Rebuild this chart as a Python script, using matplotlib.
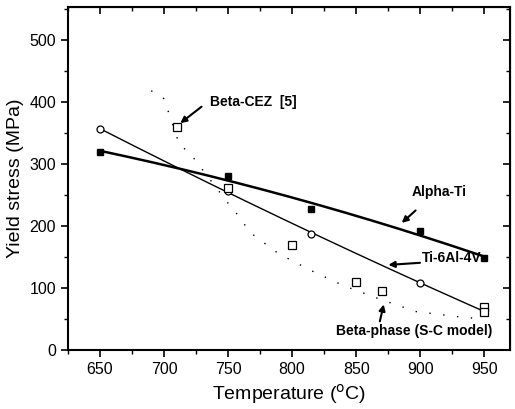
import numpy as np
import matplotlib
matplotlib.use("Agg")
import matplotlib.pyplot as plt
from matplotlib.ticker import MultipleLocator

plt.rcParams["font.family"] = ["Liberation Sans", "DejaVu Sans"]

# data
alpha_t = [650, 750, 815, 900, 950]
alpha_y = [320, 280, 227, 192, 148]

ti64_t = [650, 750, 815, 900, 950]
ti64_y = [356, 257, 187, 108, 63]

cez_t = [710, 750, 800, 850, 870, 950, 950]
cez_y = [360, 262, 170, 110, 95, 70, 62]

sc_t = [690, 700, 712, 720, 751, 759, 767, 789, 814, 840, 870, 897, 933, 950]
sc_y = [418, 405, 331, 318, 234, 214, 190, 156, 129, 104, 81, 62, 53, 50]

fig = plt.figure(figsize=(5.15, 4.09), dpi=100)
ax = fig.add_axes([0.132, 0.144, 0.858, 0.839])

tt = np.linspace(650, 950, 200)
ax.plot(tt, np.polyval(np.polyfit(alpha_t, alpha_y, 2), tt), color="black", lw=1.8)
ax.plot(tt, np.polyval(np.polyfit(ti64_t, ti64_y, 2), tt), color="black", lw=1.0)
ax.plot(sc_t, sc_y, color="black", lw=1.0, ls=(0, (1, 9)))

ax.plot(alpha_t, alpha_y, "s", color="black", ms=5)
ax.plot(ti64_t, ti64_y, "o", mfc="white", mec="black", ms=5, mew=0.9)
ax.plot(cez_t, cez_y, "s", mfc="white", mec="black", ms=5.5, mew=0.9)

ax.set_xlim(625, 970)
ax.set_ylim(0, 553)
ax.xaxis.set_major_locator(MultipleLocator(50))
ax.xaxis.set_minor_locator(MultipleLocator(25))
ax.yaxis.set_major_locator(MultipleLocator(100))
ax.yaxis.set_minor_locator(MultipleLocator(50))
ax.tick_params(which="both", direction="out", labelsize=11.5)
ax.tick_params(which="major", length=5, width=1.2)
ax.tick_params(which="minor", length=3, width=1.0)
sec_x = ax.secondary_xaxis("top")
sec_y = ax.secondary_yaxis("right")
for sec in (sec_x, sec_y):
    sec.tick_params(which="both", direction="in", labelsize=0)
    sec.tick_params(which="major", length=5, width=1.2)
    sec.tick_params(which="minor", length=3, width=1.0)
sec_x.xaxis.set_major_locator(MultipleLocator(50))
sec_x.xaxis.set_minor_locator(MultipleLocator(25))
sec_y.yaxis.set_major_locator(MultipleLocator(100))
sec_y.yaxis.set_minor_locator(MultipleLocator(50))
sec_x.set_xticklabels([])
sec_y.set_yticklabels([])
for s in ax.spines.values():
    s.set_linewidth(1.5)

ax.set_xlabel("Temperature ($^{\\mathrm{o}}$C)", fontsize=14)
ax.set_ylabel("Yield stress (MPa)", fontsize=14)

arrow = dict(arrowstyle="-|>", color="black", lw=1.5, mutation_scale=9)
lab = dict(fontsize=10, fontweight="bold", va="center")
ax.text(736, 400, "Beta-CEZ  [5]", ha="left", **lab)
ax.annotate("", xy=(711, 363), xytext=(731, 395), arrowprops=arrow)
ax.text(893, 254, "Alpha-Ti", ha="left", **lab)
ax.annotate("", xy=(884, 202), xytext=(898, 228), arrowprops=arrow)
ax.text(901, 149, "Ti-6Al-4V", ha="left", **lab)
ax.annotate("", xy=(873, 137), xytext=(902, 141), arrowprops=arrow)
ax.text(895, 31, "Beta-phase (S-C model)", ha="center", **lab)
ax.annotate("", xy=(872, 78), xytext=(868, 42), arrowprops=arrow)

fig.savefig("out.png", dpi=100)
